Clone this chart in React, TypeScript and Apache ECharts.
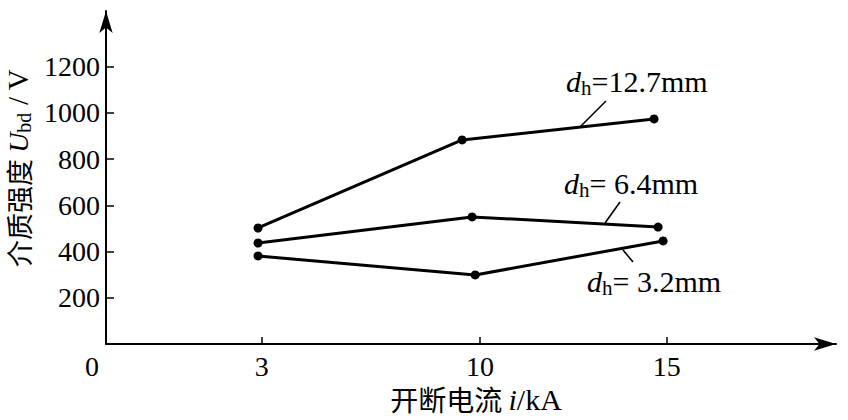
import React, { useEffect, useRef } from 'react';
import * as echarts from 'echarts';

// x axis is drawn not to scale in the source: schematic axis positions and their labels (i / kA)
const xTickLabels = ['0', '3', '10', '15'];
const xTickPositions = [0, 5, 12, 18];
const yTicks = [200, 400, 600, 800, 1000, 1200];

// U_bd / V for each gap d_h (x given in schematic axis positions)
const seriesLabels = ['=12.7mm', '= 6.4mm', '= 3.2mm'];
const x127 = [4.88, 11.43, 17.59];
const y127 = [502, 883, 974];
const x64 = [4.88, 11.75, 17.72];
const y64 = [437, 550, 506];
const x32 = [4.88, 11.85, 17.88];
const y32 = [381, 299, 446];

const serif = '"Liberation Serif", "Times New Roman", serif';
const cjk = '"Noto Sans CJK SC", sans-serif';

export default function App() {
  const ref = useRef<HTMLDivElement>(null);
  useEffect(() => {
    const chart = echarts.init(ref.current!, null, { renderer: 'svg' });
    const mkSeries = (name: string, xs: number[], ys: number[]) => ({
      name,
      type: 'line',
      data: xs.map((x, i) => [x, ys[i]]),
      symbol: 'circle',
      symbolSize: 9,
      lineStyle: { color: '#000', width: 3 },
      itemStyle: { color: '#000' },
      silent: true,
    });
    const annRich = {
      d: { fontFamily: serif, fontStyle: 'italic', fontSize: 30, color: '#000', lineHeight: 34, verticalAlign: 'middle' },
      s: { fontFamily: serif, fontSize: 21, color: '#000', lineHeight: 21, verticalAlign: 'bottom' },
      n: { fontFamily: serif, fontSize: 30, color: '#000', lineHeight: 34, verticalAlign: 'middle' },
    };
    const xTitleRich = {
      c: { fontFamily: cjk, fontSize: 28, color: '#000', lineHeight: 24, verticalAlign: 'middle' },
      d: { fontFamily: serif, fontStyle: 'italic', fontSize: 30, color: '#000', lineHeight: 24, verticalAlign: 'middle' },
      n: { fontFamily: serif, fontSize: 30, color: '#000', lineHeight: 24, verticalAlign: 'middle' },
    };
    const yTitleRich = {
      c: { fontFamily: cjk, fontSize: 27, color: '#000', lineHeight: 32, verticalAlign: 'middle' },
      d: { fontFamily: serif, fontStyle: 'italic', fontSize: 28, color: '#000', lineHeight: 32, verticalAlign: 'middle' },
      s: { fontFamily: serif, fontSize: 20, color: '#000', lineHeight: 20, verticalAlign: 'bottom' },
      n: { fontFamily: serif, fontSize: 29, color: '#000', lineHeight: 32, verticalAlign: 'middle' },
    };
    const annot = (label: string, x: number, y: number) => ({
      type: 'text',
      x,
      y,
      style: {
        text: `{d|d}{s|h}{n|${label}}`,
        rich: annRich,
        align: 'left',
        verticalAlign: 'middle',
      },
    });
    const leader = (x1: number, y1: number, x2: number, y2: number) => ({
      type: 'line',
      shape: { x1, y1, x2, y2 },
      style: { stroke: '#000', lineWidth: 1.6 },
    });
    const option: any = {
      animation: false,
      grid: { left: 106, right: 12, top: 11, bottom: 76 },
      xAxis: {
        type: 'value',
        min: 0,
        max: 23.43,
        axisLine: {
          onZero: false,
          lineStyle: { color: '#000', width: 2 },
          symbol: ['none', 'arrow'],
          symbolSize: [10, 22],
        },
        axisTick: {
          inside: true,
          length: 7,
          lineStyle: { color: '#000', width: 1.5 },
          customValues: xTickPositions.slice(1),
        },
        axisLabel: {
          customValues: xTickPositions,
          color: '#000',
          fontFamily: serif,
          fontSize: 28,
          margin: 8,
          formatter: (v: number) => {
            const i = xTickPositions.indexOf(v);
            if (i === 0) return '{z|0}';
            return i >= 0 ? xTickLabels[i] : '';
          },
          rich: { z: { fontFamily: serif, fontSize: 28, color: '#000', padding: [0, 28, 0, 0] } },
        },
        splitLine: { show: false },
      },
      yAxis: {
        type: 'value',
        min: 0,
        max: 1441,
        axisLine: {
          show: true,
          onZero: false,
          lineStyle: { color: '#000', width: 2 },
          symbol: ['none', 'arrow'],
          symbolSize: [10, 22],
        },
        axisTick: {
          show: true,
          inside: true,
          length: 8,
          lineStyle: { color: '#000', width: 1.5 },
          customValues: yTicks,
        },
        axisLabel: {
          customValues: yTicks,
          color: '#000',
          fontFamily: serif,
          fontSize: 28,
          margin: 6,
          formatter: (v: number) => String(v),
        },
        splitLine: { show: false },
      },
      series: [
        mkSeries('d_h=12.7mm', x127, y127),
        mkSeries('d_h=6.4mm', x64, y64),
        mkSeries('d_h=3.2mm', x32, y32),
      ],
      graphic: [
        annot(seriesLabels[0], 566, 81),
        annot(seriesLabels[1], 564, 183),
        annot(seriesLabels[2], 587, 281),
        leader(606, 101, 580, 127),
        leader(620, 202, 605, 223),
        leader(623, 250, 633, 262),
        {
          type: 'text',
          x: 476,
          y: 399,
          style: {
            text: '{c|开断电流 }{d|i}{n|/kA}',
            rich: xTitleRich,
            align: 'center',
            verticalAlign: 'middle',
          },
        },
        {
          type: 'text',
          x: 18,
          y: 168,
          rotation: Math.PI / 2,
          style: {
            text: '{c|介质强度 }{d|U}{s|bd}{n| / V}',
            rich: yTitleRich,
            align: 'center',
            verticalAlign: 'middle',
          },
        },
      ],
    };
    chart.setOption(option);
    return () => chart.dispose();
  }, []);
  return (
    <div
      ref={ref}
      style={{ position: 'fixed', left: 0, top: 0, width: 848, height: 420, background: '#fff' }}
    />
  );
}
